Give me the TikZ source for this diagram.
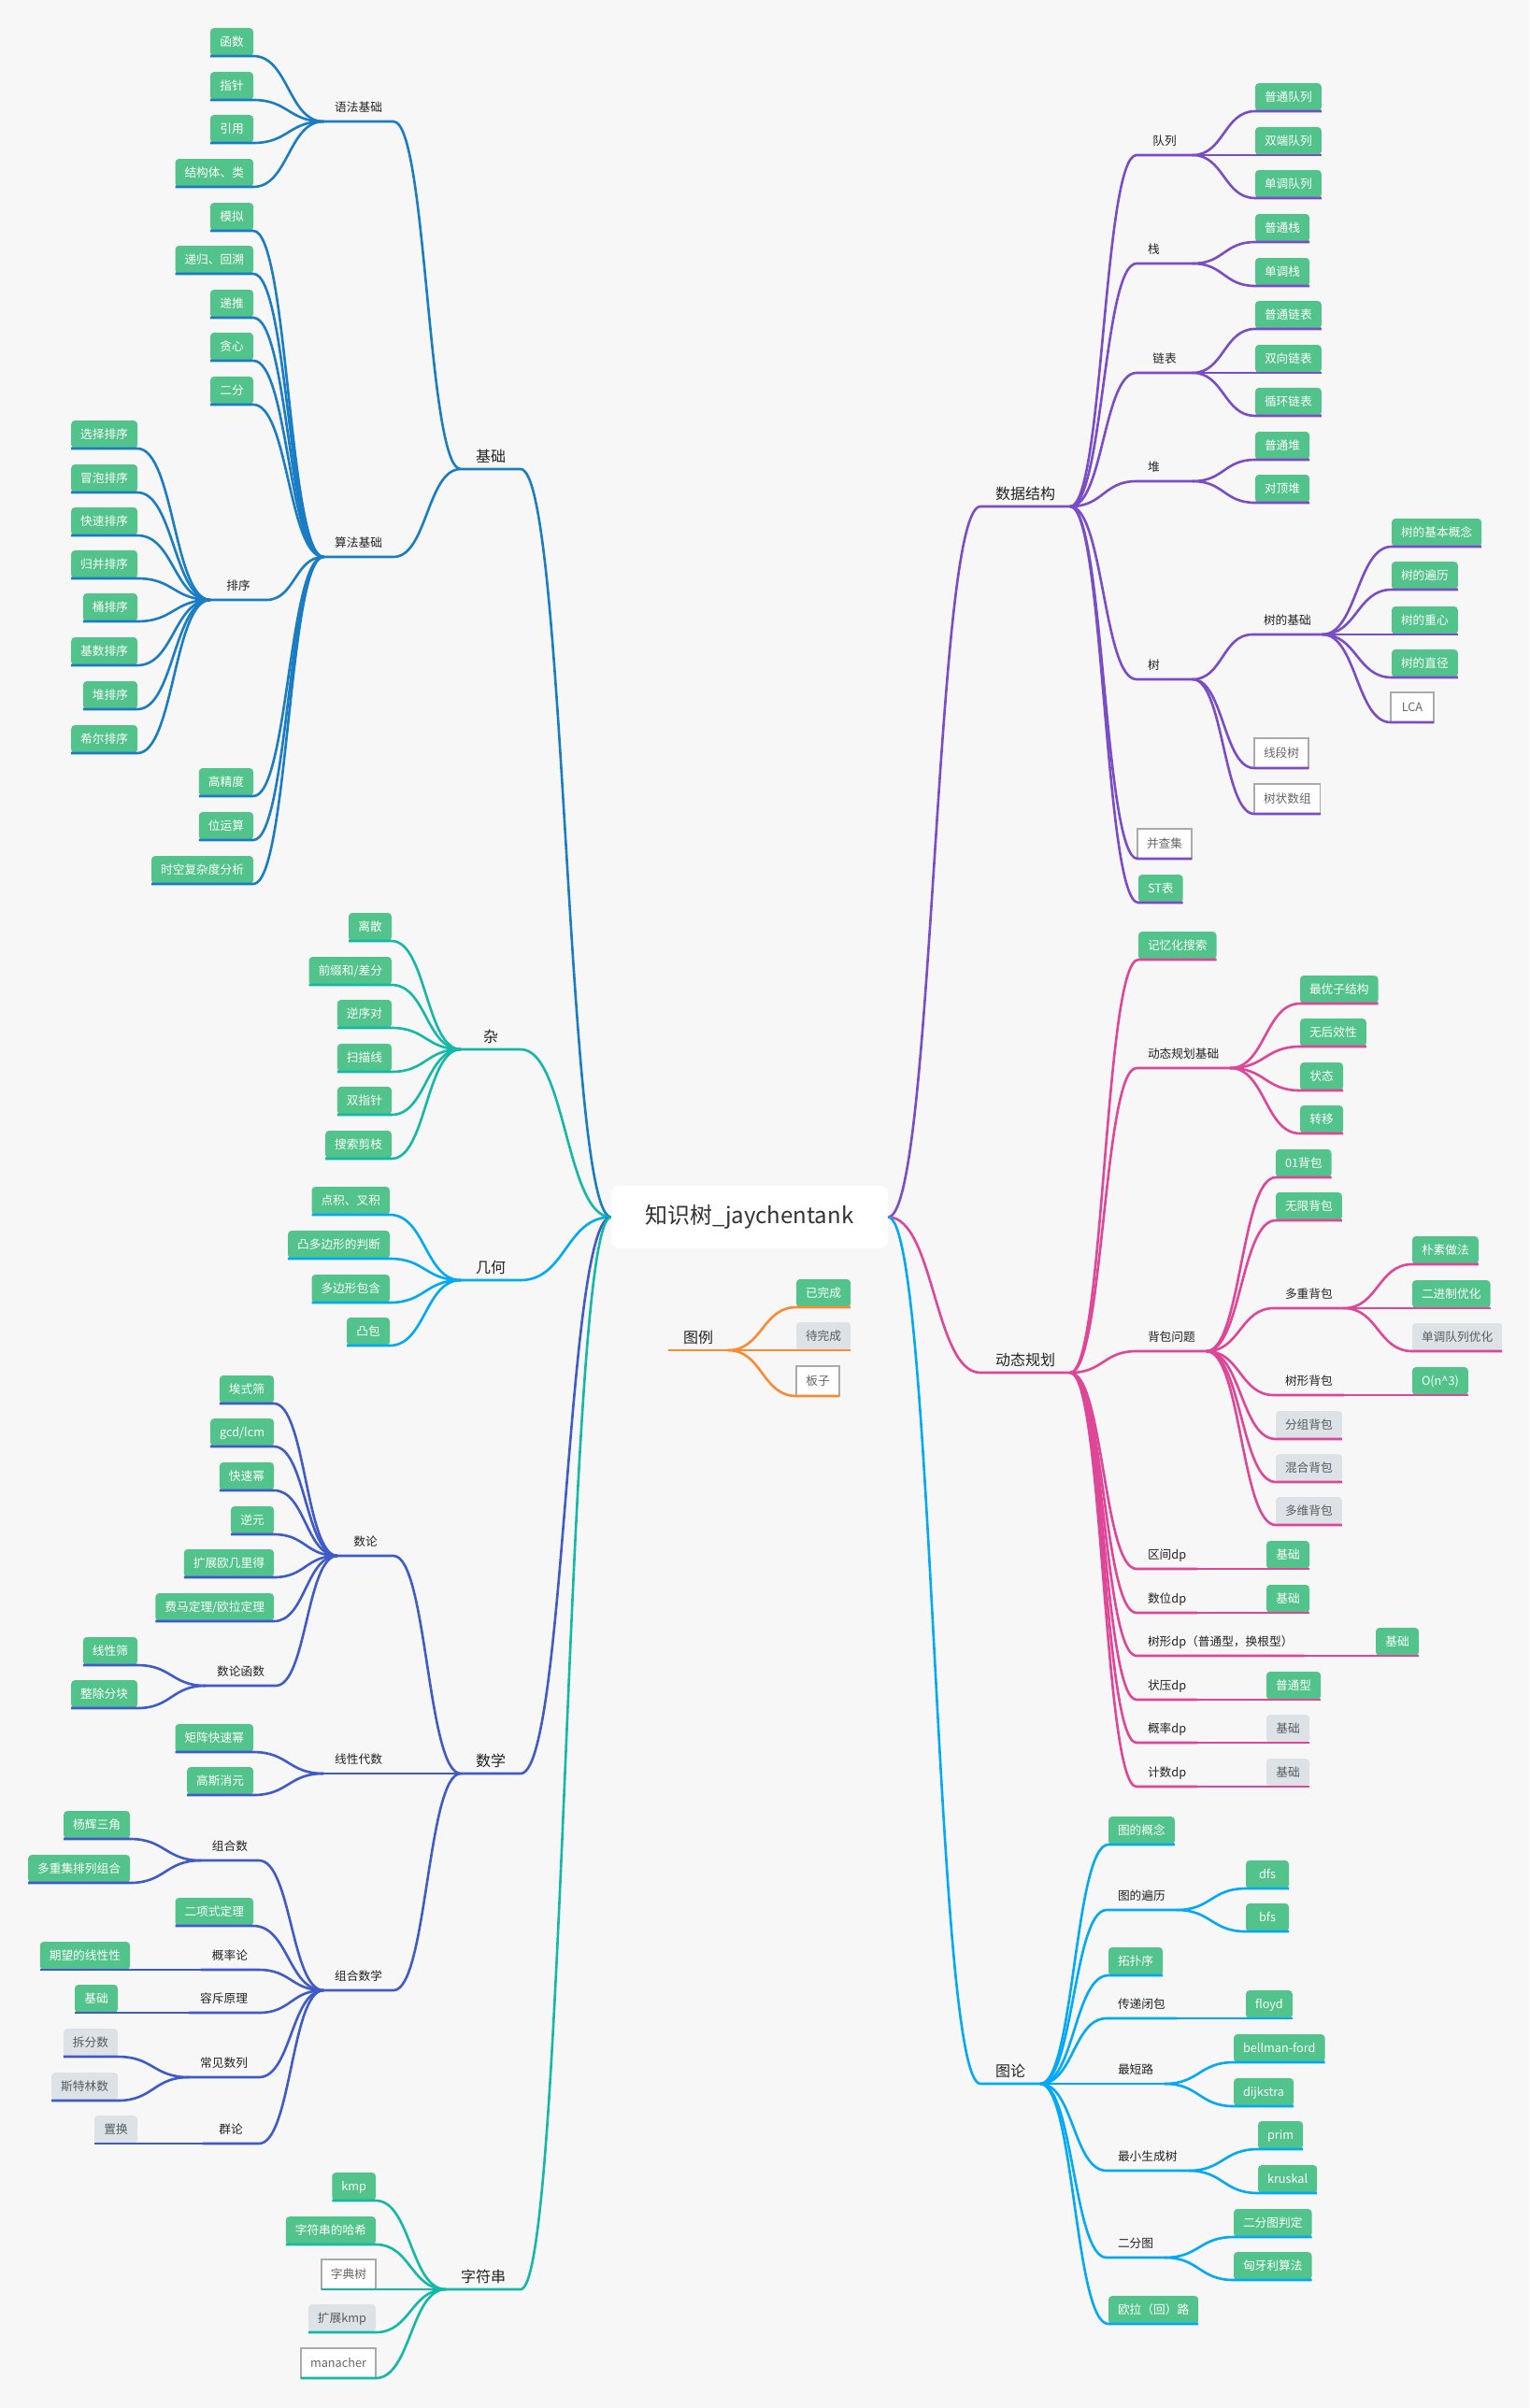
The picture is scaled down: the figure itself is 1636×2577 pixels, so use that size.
\documentclass[tikz,border=0pt]{standalone}
\usepackage{fontspec}
\setmainfont{Noto Sans CJK SC}
\usetikzlibrary{calc}
\definecolor{bgc}{HTML}{F7F7F7}
\definecolor{cjc}{HTML}{1A7DC4}
\definecolor{cza}{HTML}{14B8A6}
\definecolor{cjh}{HTML}{03A9F4}
\definecolor{csx}{HTML}{3F5BC7}
\definecolor{czf}{HTML}{14B8A6}
\definecolor{cds}{HTML}{7A4CC6}
\definecolor{cdp}{HTML}{DE4698}
\definecolor{ctl}{HTML}{03A9F4}
\definecolor{clg}{HTML}{FA8B35}
\definecolor{gr}{HTML}{52C38A}
\definecolor{gy}{HTML}{DCE2E5}
\definecolor{gyt}{HTML}{555B5E}
\definecolor{wbd}{HTML}{AAAAAA}
\definecolor{wt}{HTML}{666666}
\definecolor{tx}{HTML}{222222}
\definecolor{rt}{HTML}{333333}
\newcommand\lconn[3]{\draw[#1] let \p1=(#2), \p2=(#3.south east) in (\p1) .. controls ({0.5*\x1+0.5*\x2},\y1) and ({0.5*\x1+0.5*\x2},\y2) .. (\p2) -- (#3.south west);}
\newcommand\rconn[3]{\draw[#1] let \p1=(#2), \p2=(#3.south west) in (\p1) .. controls ({0.5*\x1+0.5*\x2},\y1) and ({0.5*\x1+0.5*\x2},\y2) .. (\p2) -- (#3.south east);}
\tikzset{
 base/.style={font=\fontsize{12.7}{15}\selectfont, inner xsep=10pt, inner ysep=0pt, minimum height=30pt, text height=11pt, text depth=1.5pt, outer sep=0pt},
 gbox/.style={base, fill=gr, text=white, rounded corners=4pt, minimum width=46pt},
 ybox/.style={base, fill=gy, text=gyt, rounded corners=4pt, minimum width=46pt},
 wbox/.style={base, fill=white, draw=wbd, line width=1.3pt, text=wt, minimum height=32pt, minimum width=46pt},
 lab/.style={base, inner xsep=12pt, text=tx, minimum width=60pt},
 onech/.style={text width=36pt, align=left},
 big/.style={font=\fontsize{16}{19}\selectfont, inner xsep=16pt, inner ysep=0pt, minimum height=28pt, minimum width=64pt, text height=13.8pt, text depth=1.8pt, text=tx, outer sep=0pt},
 rootn/.style={fill=white, rounded corners=8pt, minimum width=296pt, minimum height=67pt, font=\fontsize{24}{28}\selectfont, text=rt, inner sep=0pt},
 conn/.style={line width=2.6pt, line join=round},
 bjc/.style={conn, draw=cjc}, bza/.style={conn, draw=cza}, bjh/.style={conn, draw=cjh},
 bsx/.style={conn, draw=csx}, bzf/.style={conn, draw=czf}, bds/.style={conn, draw=cds},
 bdp/.style={conn, draw=cdp}, btl/.style={conn, draw=ctl}, blg/.style={conn, draw=clg},
}
\begin{document}
\begin{tikzpicture}[x=1pt,y=-1pt]
\fill[bgc] (0,0) rectangle (1636,2577);
\useasboundingbox (0,0) rectangle (1636,2577);
% root
\node[rootn] (root) at (802,1302.5) {知识树\_jaychentank};
% ===== left: level 1
\node[big,anchor=south east] (jc) at (557,502) {基础};
\node[big,anchor=south east] (za) at (557,1123) {杂};
\node[big,anchor=south east] (jh) at (557,1370) {几何};
\node[big,anchor=south east] (sx) at (557,1898) {数学};
\node[big,anchor=south east] (zf) at (557,2450) {字符串};
% 基础
\node[lab,anchor=south east] (yf) at (421,130) {语法基础};
\node[lab,anchor=south east] (sf) at (421,596) {算法基础};
\node[gbox,anchor=south east] (a1) at (271,60) {函数};
\node[gbox,anchor=south east] (a2) at (271,107) {指针};
\node[gbox,anchor=south east] (a3) at (271,153) {引用};
\node[gbox,anchor=south east] (a4) at (271,200) {结构体、类};
\node[gbox,anchor=south east] (b1) at (271,247) {模拟};
\node[gbox,anchor=south east] (b2) at (271,293) {递归、回溯};
\node[gbox,anchor=south east] (b3) at (271,340) {递推};
\node[gbox,anchor=south east] (b4) at (271,386) {贪心};
\node[gbox,anchor=south east] (b5) at (271,433) {二分};
\node[lab,anchor=south east] (px) at (285,642) {排序};
\node[gbox,anchor=south east] (b6) at (271,852) {高精度};
\node[gbox,anchor=south east] (b7) at (271,899) {位运算};
\node[gbox,anchor=south east] (b8) at (271,946) {时空复杂度分析};
\node[gbox,anchor=south east] (c1) at (147,480) {选择排序};
\node[gbox,anchor=south east] (c2) at (147,527) {冒泡排序};
\node[gbox,anchor=south east] (c3) at (147,573) {快速排序};
\node[gbox,anchor=south east] (c4) at (147,619) {归并排序};
\node[gbox,anchor=south east] (c5) at (147,665) {桶排序};
\node[gbox,anchor=south east] (c6) at (147,712) {基数排序};
\node[gbox,anchor=south east] (c7) at (147,759) {堆排序};
\node[gbox,anchor=south east] (c8) at (147,806) {希尔排序};
% 杂
\node[gbox,anchor=south east] (d1) at (419,1007) {离散};
\node[gbox,anchor=south east] (d2) at (419,1054) {前缀和/差分};
\node[gbox,anchor=south east] (d3) at (419,1100) {逆序对};
\node[gbox,anchor=south east] (d4) at (419,1147) {扫描线};
\node[gbox,anchor=south east] (d5) at (419,1193) {双指针};
\node[gbox,anchor=south east] (d6) at (419,1240) {搜索剪枝};
% 几何
\node[gbox,anchor=south east] (e1) at (417,1300) {点积、叉积};
\node[gbox,anchor=south east] (e2) at (417,1347) {凸多边形的判断};
\node[gbox,anchor=south east] (e3) at (417,1394) {多边形包含};
\node[gbox,anchor=south east] (e4) at (417,1440) {凸包};
% 数学
\node[lab,anchor=south east] (sl) at (421,1665) {数论};
\node[lab,anchor=south east] (xd) at (421,1898) {线性代数};
\node[lab,anchor=south east] (zh) at (421,2130) {组合数学};
\node[gbox,anchor=south east] (f1) at (293,1502) {埃式筛};
\node[gbox,anchor=south east] (f2) at (293,1548) {gcd/lcm};
\node[gbox,anchor=south east] (f3) at (293,1595) {快速幂};
\node[gbox,anchor=south east] (f4) at (293,1642) {逆元};
\node[gbox,anchor=south east] (f5) at (293,1688) {扩展欧几里得};
\node[gbox,anchor=south east] (f6) at (293,1735) {费马定理/欧拉定理};
\node[lab,anchor=south east] (sh) at (295,1804) {数论函数};
\node[gbox,anchor=south east] (g1) at (147,1782) {线性筛};
\node[gbox,anchor=south east] (g2) at (147,1828) {整除分块};
\node[gbox,anchor=south east] (h1) at (271,1875) {矩阵快速幂};
\node[gbox,anchor=south east] (h2) at (271,1921) {高斯消元};
\node[lab,anchor=south east] (zs) at (277,1991) {组合数};
\node[gbox,anchor=south east] (i1) at (271,2061) {二项式定理};
\node[lab,anchor=south east] (gl) at (277,2108) {概率论};
\node[lab,anchor=south east] (rc) at (277,2154) {容斥原理};
\node[lab,anchor=south east] (cj) at (277,2223) {常见数列};
\node[lab,anchor=south east] (ql) at (277,2294) {群论};
\node[gbox,anchor=south east] (j1) at (139,1968) {杨辉三角};
\node[gbox,anchor=south east] (j2) at (139,2015) {多重集排列组合};
\node[gbox,anchor=south east] (j3) at (139,2108) {期望的线性性};
\node[gbox,anchor=south east] (j4) at (126,2154) {基础};
\node[ybox,anchor=south east] (j5) at (126,2201) {拆分数};
\node[ybox,anchor=south east] (j6) at (126,2248) {斯特林数};
\node[ybox,anchor=south east] (j7) at (147,2294) {置换};
% 字符串
\node[gbox,anchor=south east] (k1) at (402,2355) {kmp};
\node[gbox,anchor=south east] (k2) at (402,2402) {字符串的哈希};
\node[wbox,anchor=south east] (k3) at (402,2450) {字典树};
\node[ybox,anchor=south east] (k4) at (402,2496) {扩展kmp};
\node[wbox,anchor=south east] (k5) at (402,2545) {manacher};
% ===== right: level 1
\node[big,anchor=south west] (ds) at (1049,542) {数据结构};
\node[big,anchor=south west] (dp) at (1049,1469) {动态规划};
\node[big,anchor=south west] (gt) at (1049,2230) {图论};
% 数据结构
\node[lab,anchor=south west] (dl) at (1216,166) {队列};
\node[lab,onech,anchor=south west] (zn) at (1216,282) {栈};
\node[lab,anchor=south west] (lb) at (1216,399) {链表};
\node[lab,onech,anchor=south west] (dui) at (1216,515) {堆};
\node[lab,onech,anchor=south west] (tr) at (1216,727) {树};
\node[wbox,anchor=south west] (bcj) at (1217,919) {并查集};
\node[gbox,anchor=south west] (st) at (1218,966) {ST表};
\node[gbox,anchor=south west] (m1) at (1343,119) {普通队列};
\node[gbox,anchor=south west] (m2) at (1343,166) {双端队列};
\node[gbox,anchor=south west] (m3) at (1343,212) {单调队列};
\node[gbox,anchor=south west] (m4) at (1343,259) {普通栈};
\node[gbox,anchor=south west] (m5) at (1343,306) {单调栈};
\node[gbox,anchor=south west] (m6) at (1343,352) {普通链表};
\node[gbox,anchor=south west] (m7) at (1343,399) {双向链表};
\node[gbox,anchor=south west] (m8) at (1343,445) {循环链表};
\node[gbox,anchor=south west] (m9) at (1343,492) {普通堆};
\node[gbox,anchor=south west] (m10) at (1343,538) {对顶堆};
\node[lab,anchor=south west] (sj) at (1340,679) {树的基础};
\node[wbox,anchor=south west] (n1) at (1342,822) {线段树};
\node[wbox,anchor=south west] (n2) at (1342,871) {树状数组};
\node[gbox,anchor=south west] (o1) at (1489,585) {树的基本概念};
\node[gbox,anchor=south west] (o2) at (1489,631) {树的遍历};
\node[gbox,anchor=south west] (o3) at (1489,679) {树的重心};
\node[gbox,anchor=south west] (o4) at (1489,725) {树的直径};
\node[wbox,anchor=south west] (o5) at (1488,773) {LCA};
% 动态规划
\node[gbox,anchor=south west] (p1) at (1218,1027) {记忆化搜索};
\node[lab,anchor=south west] (dj) at (1216,1143) {动态规划基础};
\node[lab,anchor=south west] (bb) at (1216,1446) {背包问题};
\node[lab,anchor=south west] (q1) at (1216,1679) {区间dp};
\node[lab,anchor=south west] (q2) at (1216,1726) {数位dp};
\node[lab,anchor=south west] (q3) at (1216,1772) {树形dp（普通型，换根型）};
\node[lab,anchor=south west] (q4) at (1216,1819) {状压dp};
\node[lab,anchor=south west] (q5) at (1216,1865) {概率dp};
\node[lab,anchor=south west] (q6) at (1216,1912) {计数dp};
\node[gbox,anchor=south west] (r1) at (1391,1074) {最优子结构};
\node[gbox,anchor=south west] (r2) at (1391,1120) {无后效性};
\node[gbox,anchor=south west] (r3) at (1391,1167) {状态};
\node[gbox,anchor=south west] (r4) at (1391,1213) {转移};
\node[gbox,anchor=south west] (s1) at (1365,1260) {01背包};
\node[gbox,anchor=south west] (s2) at (1365,1306) {无限背包};
\node[lab,anchor=south west] (dc) at (1363,1400) {多重背包};
\node[lab,anchor=south west] (xb) at (1363,1493) {树形背包};
\node[ybox,anchor=south west] (s3) at (1365,1540) {分组背包};
\node[ybox,anchor=south west] (s4) at (1365,1586) {混合背包};
\node[ybox,anchor=south west] (s5) at (1365,1632) {多维背包};
\node[gbox,anchor=south west] (t1) at (1511,1353) {朴素做法};
\node[gbox,anchor=south west] (t2) at (1511,1400) {二进制优化};
\node[ybox,anchor=south west] (t3) at (1511,1446) {单调队列优化};
\node[gbox,anchor=south west] (t4) at (1511,1493) {O(n\textasciicircum3)};
\node[gbox,anchor=south west] (u1) at (1355,1679) {基础};
\node[gbox,anchor=south west] (u2) at (1355,1726) {基础};
\node[gbox,anchor=south west] (u3) at (1472,1772) {基础};
\node[gbox,anchor=south west] (u4) at (1355,1819) {普通型};
\node[ybox,anchor=south west] (u5) at (1355,1865) {基础};
\node[ybox,anchor=south west] (u6) at (1355,1912) {基础};
% 图论
\node[gbox,anchor=south west] (v1) at (1186,1974) {图的概念};
\node[lab,anchor=south west] (tb) at (1184,2044) {图的遍历};
\node[gbox,anchor=south west] (v2) at (1186,2114) {拓扑序};
\node[lab,anchor=south west] (cd) at (1184,2160) {传递闭包};
\node[lab,anchor=south west] (zd) at (1184,2230) {最短路};
\node[lab,anchor=south west] (zx) at (1184,2323) {最小生成树};
\node[lab,anchor=south west] (ef) at (1184,2416) {二分图};
\node[gbox,anchor=south west] (v3) at (1186,2487) {欧拉（回）路};
\node[gbox,anchor=south west] (w1) at (1333,2021) {dfs};
\node[gbox,anchor=south west] (w2) at (1333,2067) {bfs};
\node[gbox,anchor=south west] (w3) at (1333,2160) {floyd};
\node[gbox,anchor=south west] (w4) at (1320,2207) {bellman-ford};
\node[gbox,anchor=south west] (w5) at (1320,2254) {dijkstra};
\node[gbox,anchor=south west] (w6) at (1346,2300) {prim};
\node[gbox,anchor=south west] (w7) at (1346,2347) {kruskal};
\node[gbox,anchor=south west] (w8) at (1320,2394) {二分图判定};
\node[gbox,anchor=south west] (w9) at (1320,2440) {匈牙利算法};
% legend
\node[big,anchor=south west] (lg) at (715,1445) {图例};
\node[gbox,anchor=south west] (y1) at (852,1399) {已完成};
\node[ybox,anchor=south west] (y2) at (852,1445) {待完成};
\node[wbox,anchor=south west] (y3) at (852,1494) {板子};
% ===== connectors left
\lconn{bjc}{root.west}{jc}
\foreach \nn in {yf,sf} {\lconn{bjc}{jc.south west}{\nn}}
\foreach \nn in {a1,a2,a3,a4} {\lconn{bjc}{yf.south west}{\nn}}
\foreach \nn in {b1,b2,b3,b4,b5,px,b6,b7,b8} {\lconn{bjc}{sf.south west}{\nn}}
\foreach \nn in {c1,c2,c3,c4,c5,c6,c7,c8} {\lconn{bjc}{px.south west}{\nn}}
\lconn{bza}{root.west}{za}
\foreach \nn in {d1,d2,d3,d4,d5,d6} {\lconn{bza}{za.south west}{\nn}}
\lconn{bjh}{root.west}{jh}
\foreach \nn in {e1,e2,e3,e4} {\lconn{bjh}{jh.south west}{\nn}}
\lconn{bsx}{root.west}{sx}
\foreach \nn in {sl,xd,zh} {\lconn{bsx}{sx.south west}{\nn}}
\foreach \nn in {f1,f2,f3,f4,f5,f6,sh} {\lconn{bsx}{sl.south west}{\nn}}
\foreach \nn in {g1,g2} {\lconn{bsx}{sh.south west}{\nn}}
\foreach \nn in {h1,h2} {\lconn{bsx}{xd.south west}{\nn}}
\foreach \nn in {zs,i1,gl,rc,cj,ql} {\lconn{bsx}{zh.south west}{\nn}}
\foreach \nn in {j1,j2} {\lconn{bsx}{zs.south west}{\nn}}
\lconn{bsx}{gl.south west}{j3}
\lconn{bsx}{rc.south west}{j4}
\foreach \nn in {j5,j6} {\lconn{bsx}{cj.south west}{\nn}}
\lconn{bsx}{ql.south west}{j7}
\lconn{bzf}{root.west}{zf}
\foreach \nn in {k1,k2,k3,k4,k5} {\lconn{bzf}{zf.south west}{\nn}}
% ===== connectors right
\rconn{bds}{root.east}{ds}
\foreach \nn in {dl,zn,lb,dui,tr,bcj,st} {\rconn{bds}{ds.south east}{\nn}}
\foreach \nn in {m1,m2,m3} {\rconn{bds}{dl.south east}{\nn}}
\foreach \nn in {m4,m5} {\rconn{bds}{zn.south east}{\nn}}
\foreach \nn in {m6,m7,m8} {\rconn{bds}{lb.south east}{\nn}}
\foreach \nn in {m9,m10} {\rconn{bds}{dui.south east}{\nn}}
\foreach \nn in {sj,n1,n2} {\rconn{bds}{tr.south east}{\nn}}
\foreach \nn in {o1,o2,o3,o4,o5} {\rconn{bds}{sj.south east}{\nn}}
\rconn{bdp}{root.east}{dp}
\foreach \nn in {p1,dj,bb,q1,q2,q3,q4,q5,q6} {\rconn{bdp}{dp.south east}{\nn}}
\foreach \nn in {r1,r2,r3,r4} {\rconn{bdp}{dj.south east}{\nn}}
\foreach \nn in {s1,s2,dc,xb,s3,s4,s5} {\rconn{bdp}{bb.south east}{\nn}}
\foreach \nn in {t1,t2,t3} {\rconn{bdp}{dc.south east}{\nn}}
\rconn{bdp}{xb.south east}{t4}
\rconn{bdp}{q1.south east}{u1}
\rconn{bdp}{q2.south east}{u2}
\rconn{bdp}{q3.south east}{u3}
\rconn{bdp}{q4.south east}{u4}
\rconn{bdp}{q5.south east}{u5}
\rconn{bdp}{q6.south east}{u6}
\rconn{btl}{root.east}{gt}
\foreach \nn in {v1,tb,v2,cd,zd,zx,ef,v3} {\rconn{btl}{gt.south east}{\nn}}
\foreach \nn in {w1,w2} {\rconn{btl}{tb.south east}{\nn}}
\rconn{btl}{cd.south east}{w3}
\foreach \nn in {w4,w5} {\rconn{btl}{zd.south east}{\nn}}
\foreach \nn in {w6,w7} {\rconn{btl}{zx.south east}{\nn}}
\foreach \nn in {w8,w9} {\rconn{btl}{ef.south east}{\nn}}
% legend
\draw[blg] (lg.south west) -- (lg.south east);
\foreach \nn in {y1,y2,y3} {\rconn{blg}{lg.south east}{\nn}}
\end{tikzpicture}
\end{document}
